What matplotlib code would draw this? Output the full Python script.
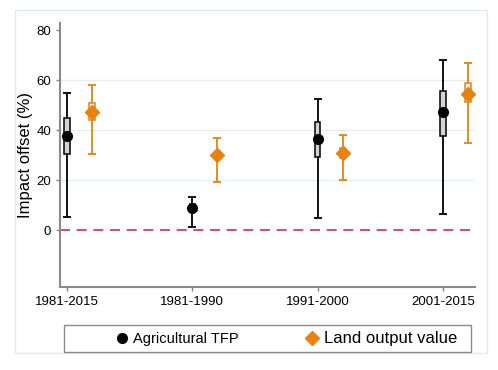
import numpy as np
import matplotlib
matplotlib.use('Agg')
import matplotlib.pyplot as plt
from matplotlib.lines import Line2D
from matplotlib.patches import Rectangle

plt.rcParams['font.family'] = ['Liberation Sans', 'DejaVu Sans']

# periods on the x axis
periods = ['1981-2015', '1981-1990', '1991-2000', '2001-2015']

# Agricultural TFP: estimate, 95% CI, inner box
tfp_est = [37.7, 8.9, 36.4, 47.1]
tfp_ci_lo = [5.3, 1.1, 4.9, 6.5]
tfp_ci_hi = [54.7, 13.1, 52.5, 68.0]
tfp_box_lo = [30.3, 7.6, 29.1, 37.5]
tfp_box_hi = [44.7, 10.4, 43.1, 55.6]

# Land output value
land_est = [47.1, 29.9, 30.9, 54.4]
land_ci_lo = [30.3, 19.2, 19.9, 34.8]
land_ci_hi = [58.1, 36.7, 38.0, 66.8]
land_box_lo = [44.0, 28.4, 29.0, 51.1]
land_box_hi = [50.7, 31.4, 33.0, 58.7]

BLACK = 'black'
ORANGE = '#E8820C'

fig = plt.figure(figsize=(4.98, 3.70), dpi=100)
ax = fig.add_axes([0.1205, 0.2243, 0.8333, 0.7135])

x = np.arange(1, len(periods) + 1)
xo = x + 0.2


def draw_series(xpos, est, lo, hi, blo, bhi, col, marker, ms, boxfill):
    est = np.array(est)
    err = [est - np.array(lo), np.array(hi) - est]
    ax.errorbar(xpos, est, yerr=err, fmt='none', ecolor=col, elinewidth=1.3,
                capsize=3.2, capthick=1.3, zorder=3)
    ax.bar(xpos, np.array(bhi) - np.array(blo), bottom=blo, width=0.045,
           color=boxfill, edgecolor=col, linewidth=1.1, zorder=4)
    ax.plot(xpos, est, ls='none', marker=marker, ms=ms, color=col,
            markeredgecolor=col, zorder=5)


for yy in [20, 40, 60]:
    ax.axhline(yy, color='#e6eeee', lw=1.0, zorder=0)
ax.axhline(0, color='#d8285a', lw=1.2, ls=(0, (6, 4)), zorder=2)

draw_series(x, tfp_est, tfp_ci_lo, tfp_ci_hi, tfp_box_lo, tfp_box_hi,
            BLACK, 'o', 7, '#d4d4d4')
draw_series(xo, land_est, land_ci_lo, land_ci_hi, land_box_lo, land_box_hi,
            ORANGE, 'D', 7, '#f4f4f4')

ax.set_xlim(0.944, 4.256)
ax.set_ylim(-22.8, 82.8)
ax.set_yticks([0, 20, 40, 60, 80])
ax.set_xticks(x)
ax.set_xticklabels(periods)
ax.tick_params(axis='both', labelsize=9.5, color='#888888', length=3,
               width=1, labelcolor='black')
ax.set_ylabel('Impact offset (%)', fontsize=12, labelpad=2)
for s in ['top', 'right']:
    ax.spines[s].set_visible(False)
for s in ['left', 'bottom']:
    ax.spines[s].set_color('#8a8a8a')
    ax.spines[s].set_linewidth(1.5)

# outer light frame
fig.patches.append(Rectangle((0.030, 0.046), 0.948, 0.927, transform=fig.transFigure,
                             fill=False, edgecolor='#e4eaea', lw=1.0))
# legend frame
fig.patches.append(Rectangle((0.1285, 0.0486), 0.817, 0.073, transform=fig.transFigure,
                             fill=True, facecolor='white', edgecolor='#8a8a8a', lw=1.0,
                             zorder=5))

handles = [Line2D([], [], ls='none', marker='o', ms=7, color=BLACK),
           Line2D([], [], ls='none', marker='D', ms=7, color=ORANGE)]
leg = fig.legend(handles, ['Agricultural TFP', 'Land output value'], loc='center',
                 bbox_to_anchor=(0.575, 0.0851), ncol=2, frameon=False,
                 handlelength=0.8, handletextpad=0.4, columnspacing=4.6,
                 fontsize=10.5)
leg.set_zorder(6)
leg.get_texts()[1].set_fontsize(12)

fig.savefig('out.png', dpi=100)
